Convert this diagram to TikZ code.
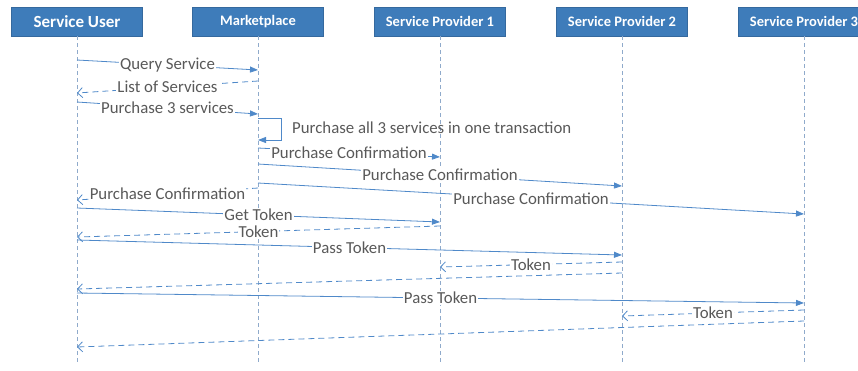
\documentclass[tikz,border=0pt]{standalone}
\usepackage{fontspec}
\setmainfont{Carlito}
\usetikzlibrary{arrows.meta}
\definecolor{hdr}{HTML}{3E7CBA}
\definecolor{msg}{HTML}{4F89C9}
\definecolor{txt}{HTML}{595959}
\definecolor{life}{HTML}{8FAACB}

\begin{document}
\begin{tikzpicture}[x=1pt,y=-1pt,
  actor/.style={fill=hdr, draw=hdr!85!black, line width=0.5pt, text=white,
    font=\bfseries\fontsize{14.5}{16}\selectfont,
    minimum width=131pt, minimum height=29pt, inner sep=0pt},
  lifeline/.style={draw=life, dash pattern=on 4pt off 3pt, line width=0.6pt},
  call/.style={draw=msg, line width=0.8pt, -{Triangle[length=8pt,width=6pt]}},
  reply/.style={draw=msg, line width=0.8pt, dash pattern=on 6pt off 4pt,
    -{Straight Barb[length=5pt,width=10pt]}},
  lbl/.style={fill=white, text=txt, font=\fontsize{16.8}{18}\selectfont,
    inner sep=1pt, pos=0.5},
  note/.style={text=txt, font=\fontsize{16.8}{18}\selectfont, inner sep=0pt},
]
\useasboundingbox (0,0) rectangle (858,370);
\clip (0,0) rectangle (858,370);

% participants
\node[actor, font=\bfseries\fontsize{17}{19}\selectfont] (su) at (77,21.5) {Service User};
\node[actor] (mp)  at (258,21.5) {Marketplace};
\node[actor] (sp1) at (440,21.5) {Service Provider 1};
\node[actor] (sp2) at (622,21.5) {Service Provider 2};
\node[actor] (sp3) at (804,21.5) {Service Provider 3};

% lifelines
\foreach \p in {su,mp,sp1,sp2,sp3} {
  \coordinate (\p-end) at (\p |- 0,365);
  \draw[lifeline] (\p) -- (\p-end);
}

% query and purchase
\draw[call]  (su |- 0,60)  -- node[lbl] {Query Service} (mp |- 0,70);
\draw[reply] (mp |- 0,81)  -- node[lbl] {List of Services} (su |- 0,93);
\draw[call]  (su |- 0,102) -- node[lbl] {Purchase 3 services} (mp |- 0,114);

% self call on the marketplace
\draw[call] (mp |- 0,118) -- ++(23,0) -- ++(0,22) -- (mp |- 0,140);
\node[note, anchor=west] (loopnote) at (292,128) {Purchase all 3 services in one transaction};

% purchase confirmations
\draw[call]  (mp |- 0,148) -- node[lbl] {Purchase Confirmation} (sp1 |- 0,157);
\draw[call]  (mp |- 0,164) -- node[lbl] {Purchase Confirmation} (sp2 |- 0,186);
\draw[call]  (mp |- 0,183) -- node[lbl] {Purchase Confirmation} (sp3 |- 0,214);
\draw[reply] (mp |- 0,188) -- node[lbl] {Purchase Confirmation} (su |- 0,200);

% token exchange
\draw[call]  (su |- 0,208)  -- node[lbl] {Get Token} (sp1 |- 0,222);
\draw[reply] (sp1 |- 0,226) -- node[lbl] {Token} (su |- 0,237);
\draw[call]  (su |- 0,240)  -- node[lbl] {Pass Token} (sp2 |- 0,255);
\draw[reply] (sp2 |- 0,262) -- node[lbl] {Token} (sp1 |- 0,267);
\draw[reply] (sp2 |- 0,273) -- (su |- 0,289);
\draw[call]  (su |- 0,293)  -- node[lbl] {Pass Token} (sp3 |- 0,303);
\draw[reply] (sp3 |- 0,310) -- node[lbl] {Token} (sp2 |- 0,316);
\draw[reply] (sp3 |- 0,321) -- (su |- 0,347);
\end{tikzpicture}
\end{document}
